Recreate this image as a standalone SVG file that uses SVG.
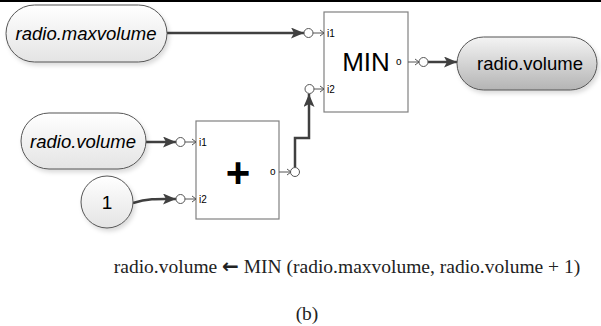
<svg xmlns="http://www.w3.org/2000/svg" width="601" height="326" viewBox="0 0 601 326">
<defs>
<linearGradient id="gLight" x1="0" y1="0" x2="0" y2="1"><stop offset="0" stop-color="#ffffff"/><stop offset="1" stop-color="#e4e4e4"/></linearGradient>
<linearGradient id="gDark" x1="0" y1="0" x2="0" y2="1"><stop offset="0" stop-color="#f4f4f4"/><stop offset="1" stop-color="#b4b4b4"/></linearGradient>
<filter id="sh" x="-20%" y="-20%" width="150%" height="160%"><feDropShadow dx="2" dy="3" stdDeviation="2" flood-color="#000" flood-opacity="0.14"/></filter>
<marker id="ah" viewBox="0 0 13 11" refX="13" refY="5.5" markerWidth="13" markerHeight="11" markerUnits="userSpaceOnUse" orient="auto"><path d="M0,0 L13,5.5 L0,11 L3,5.5 Z" fill="#404040"/></marker>
</defs>
<style>
.pill{stroke:#555;stroke-width:1;}
.box{fill:#fff;stroke:#808080;stroke-width:1.2;}
.conn{fill:none;stroke:#404040;stroke-width:2.5;}
.port{fill:#fff;stroke:#555;stroke-width:1;}
.pl{fill:none;stroke:#555;stroke-width:1;}
.t{font-family:"Liberation Sans",Arial,sans-serif;fill:#000;}
.s{font-family:"Liberation Sans",Arial,sans-serif;font-size:10px;fill:#000;}
.cap{font-family:"Liberation Serif","Times New Roman",serif;font-size:19.5px;fill:#222;}
</style>
<rect x="0" y="0" width="601" height="2" fill="#000"/>

<g id="connectors">
<path class="conn" d="M167,33 L304,33" marker-end="url(#ah)"/>
<path class="conn" d="M146,142 L176,142" marker-end="url(#ah)"/>
<path class="conn" d="M133,203 C150,198 160,199 176,199" marker-end="url(#ah)"/>
<path class="conn" d="M295,167 L295,138 L309,138 L309,94" marker-end="url(#ah)"/>
<path class="conn" d="M428,62 L457,62" marker-end="url(#ah)"/>
</g>

<g id="n-maxvolume">
<rect class="pill" x="6" y="5" width="161" height="57" rx="28.5" fill="url(#gLight)" filter="url(#sh)"/>
<text class="t" x="86" y="40" font-size="18.5" font-style="italic" text-anchor="middle">radio.maxvolume</text>
</g>

<g id="n-volume-in">
<rect class="pill" x="21" y="113" width="125" height="56" rx="28" fill="url(#gLight)" filter="url(#sh)"/>
<text class="t" x="83" y="148" font-size="18.5" font-style="italic" text-anchor="middle">radio.volume</text>
</g>

<g id="n-one">
<circle class="pill" cx="107" cy="202" r="26" fill="url(#gLight)" filter="url(#sh)"/>
<text class="t" x="107" y="209" font-size="19" text-anchor="middle">1</text>
</g>

<g id="n-plus">
<rect class="box" x="196" y="121" width="83" height="98"/>
<text class="t" x="238" y="187" font-size="42" font-weight="bold" text-anchor="middle">+</text>
<circle class="port" cx="180.5" cy="142" r="4.5"/>
<path class="pl" d="M185,142 L196,142 M192,139 L196,142 L192,145"/>
<text class="s" x="199" y="146">i1</text>
<circle class="port" cx="180.5" cy="199" r="4.5"/>
<path class="pl" d="M185,199 L196,199 M192,196 L196,199 L192,202"/>
<text class="s" x="199" y="203">i2</text>
<text class="s" x="270" y="175">o</text>
<path class="pl" d="M279,172 L291,172 M287,169 L291,172 L287,175"/>
<circle class="port" cx="295" cy="172" r="4.5"/>
</g>

<g id="n-min">
<rect class="box" x="324" y="12" width="84" height="100"/>
<text class="t" x="366" y="71" font-size="26" text-anchor="middle">MIN</text>
<circle class="port" cx="308.5" cy="33" r="4.5"/>
<path class="pl" d="M313,33 L324,33 M320,30 L324,33 L320,36"/>
<text class="s" x="327" y="37">i1</text>
<circle class="port" cx="309.5" cy="89" r="4.5"/>
<path class="pl" d="M314,89 L324,89 M320,86 L324,89 L320,92"/>
<text class="s" x="327" y="93">i2</text>
<text class="s" x="396" y="65">o</text>
<path class="pl" d="M408,62 L419,62 M415,59 L419,62 L415,65"/>
<circle class="port" cx="423.5" cy="62" r="4.5"/>
</g>

<g id="n-volume-out">
<rect class="pill" x="457" y="37" width="140" height="53" rx="26.5" fill="url(#gDark)" filter="url(#sh)"/>
<text class="t" x="530" y="70" font-size="18.5" text-anchor="middle">radio.volume</text>
</g>

<text class="cap" x="347" y="273" text-anchor="middle">radio.volume <tspan font-family="DejaVu Sans,sans-serif" font-weight="bold" font-size="20">←</tspan> MIN (radio.maxvolume, radio.volume + 1)</text>
<text class="cap" x="307" y="320" text-anchor="middle">(b)</text>
</svg>
